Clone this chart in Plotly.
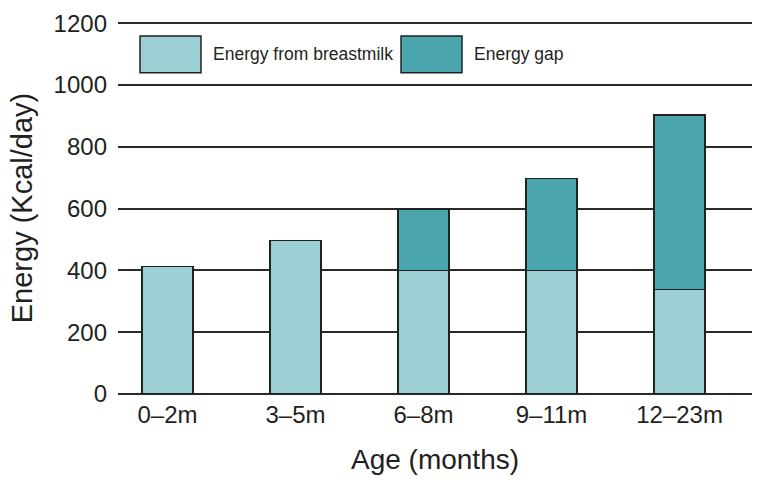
import plotly.graph_objects as go

categories = ["0–2m", "3–5m", "6–8m", "9–11m", "12–23m"]
breastmilk = [412, 497, 400, 400, 339]
energy_gap = [None, None, 199, 297, 564]
y_ticks = [0, 200, 400, 600, 800, 1000, 1200]
legend_labels = ["Energy from breastmilk", "Energy gap"]

LIGHT = "#9bcfd4"
DARK = "#4ba6ae"
EDGE = "#222222"
FONT = "Liberation Sans, Arial, Helvetica, sans-serif"
TXT = "#231f20"

x_idx = list(range(len(categories)))

fig = go.Figure()
fig.add_trace(go.Bar(x=x_idx, y=breastmilk, name=legend_labels[0], width=0.4,
                     marker=dict(color=LIGHT, line=dict(color=EDGE, width=1.5))))
fig.add_trace(go.Bar(x=x_idx, y=energy_gap, name=legend_labels[1], width=0.4,
                     marker=dict(color=DARK, line=dict(color=EDGE, width=1.5))))

# plot area: 374 px for 0..1200, extended slightly so the 1200 gridline shows
Y_TOP = 1204
plot_h = 374 * Y_TOP / 1200
fig_h = 488
b = 94
t = fig_h - b - plot_h

def py(v):  # window pixel row -> paper fraction
    return (394 - v) / plot_h

legend_boxes = [(0.0347, 0.1309, LIGHT), (0.4464, 0.5426, DARK)]
legend_text_x = [0.1467, 0.5584]
for (x0, x1, c), tx, lab in zip(legend_boxes, legend_text_x, legend_labels):
    fig.add_shape(type="rect", xref="paper", yref="paper", x0=x0, x1=x1, y0=py(70), y1=py(33),
                  fillcolor=c, line=dict(color=EDGE, width=1.5))
    fig.add_annotation(xref="paper", yref="paper", x=tx, y=py(51.5), text=lab, showarrow=False,
                       xanchor="left", yanchor="middle", font=dict(family=FONT, size=17.5, color=TXT))

fig.update_layout(
    width=762, height=fig_h,
    margin=dict(l=118, r=10, t=t, b=b, pad=0),
    paper_bgcolor="white", plot_bgcolor="white",
    barmode="stack", showlegend=False,
    font=dict(family=FONT, color=TXT),
    xaxis=dict(tickmode="array", tickvals=x_idx, ticktext=categories,
               range=[-0.387, 4.566], showgrid=False, zeroline=False, showline=False,
               tickfont=dict(size=24, color=TXT), ticks="", ticklabelstandoff=4,
               title=dict(text="Age (months)", font=dict(size=28, color=TXT), standoff=22)),
    yaxis=dict(range=[0, Y_TOP], tickvals=y_ticks, showgrid=True, gridcolor="#2a2a2a", gridwidth=1.6,
               zeroline=True, zerolinecolor="#2a2a2a", zerolinewidth=1.6, showline=False,
               tickfont=dict(size=24, color=TXT), ticks="", ticklabelstandoff=10,
               title=dict(text="Energy (Kcal/day)", font=dict(size=29, color=TXT), standoff=12)),
)

fig.write_html("out.html", config={"displayModeBar": False},
               post_script="document.body.style.margin='0';document.body.style.overflow='hidden';")
